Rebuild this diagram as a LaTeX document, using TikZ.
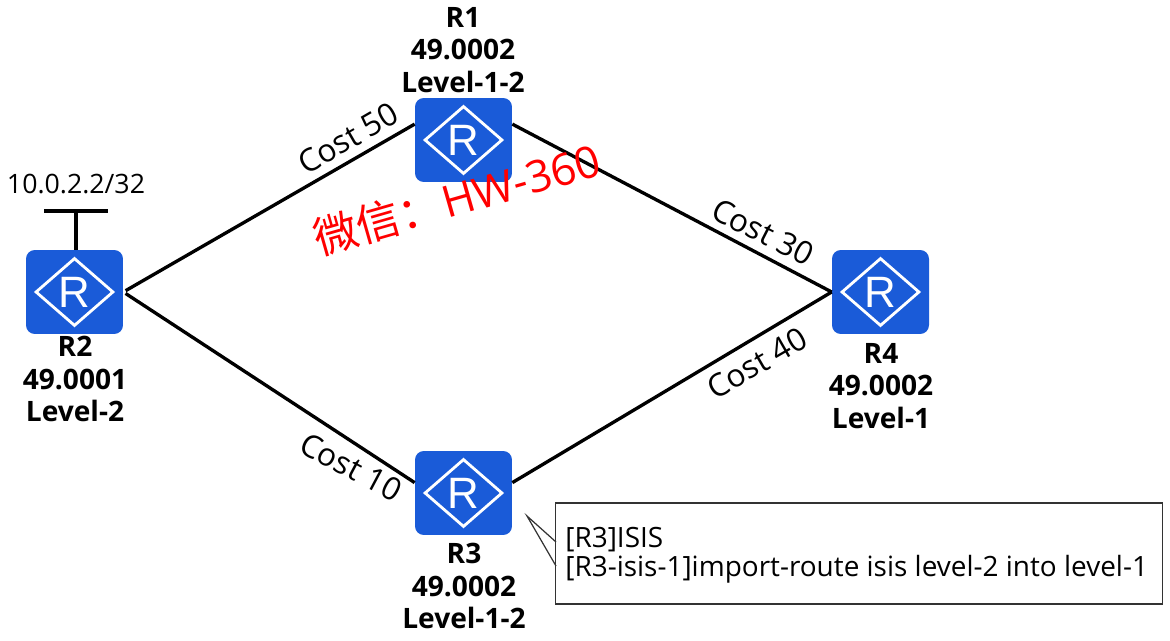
\documentclass[tikz,border=0pt]{standalone}
\usepackage{fontspec}
\setmainfont{Open Sans}
\newfontfamily\cjkfont{Noto Sans CJK SC}
\newfontfamily\markfont{Liberation Sans}
\usetikzlibrary{shapes.geometric}
\definecolor{routerblue}{RGB}{26,91,216}
\tikzset{
  router/.style={fill=routerblue,rounded corners=5pt,minimum width=1.94cm,minimum height=1.68cm,inner sep=0pt},
  routermark/.style={diamond,draw=white,line width=1.6pt,text=white,minimum width=1.56cm,minimum height=1.36cm,inner sep=0pt,font=\markfont\fontsize{25}{25}\selectfont},
  routerinfo/.style={align=center,font=\fontsize{16}{18.5}\selectfont\bfseries,inner sep=0pt},
  link/.style={line width=1.9pt},
  cost/.style={font=\fontsize{18}{20}\selectfont,inner sep=0pt}
}
\begin{document}
\begin{tikzpicture}[x=0.02cm,y=-0.02cm]
\useasboundingbox (0,0) rectangle (1170,641);

\node [router] (r1) at (463.5,140) {};
\node [router] (r2) at (74.5,292) {};
\node [router] (r3) at (463.5,493) {};
\node [router] (r4) at (880.5,292) {};
\node [routermark] (m1) at (r1) {R};
\node [routermark] (m2) at (r2) {R};
\node [routermark] (m3) at (r3) {R};
\node [routermark] (m4) at (r4) {R};

\node [routerinfo] (t1) at (463,50) {R1\\49.0002\\Level-1-2};
\node [routerinfo] (t2) at (75,379) {R2\\49.0001\\Level-2};
\node [routerinfo] (t3) at (464,586) {R3\\49.0002\\Level-1-2};
\node [routerinfo] (t4) at (881,386) {R4\\49.0002\\Level-1};

\draw [link,shorten <=1.5pt] (r2.east) -- (r1.162);
\draw [link] (r1.18) -- (r4.west);
\draw [link,shorten <=1.5pt] (r2.east) -- (r3.168);
\draw [link] (r3.12) -- (r4.west);

% loopback of R2
\coordinate (bar) at (76,211);
\coordinate (barl) at (44,211);
\coordinate (barr) at (108,211);
\draw [line width=1.8pt] (barl) -- (barr);
\draw [line width=1.8pt] (bar) -- (bar |- r2.north);
\node [font=\fontsize{15.2}{18}\selectfont,inner sep=0pt] (lo) at (76,184) {10.0.2.2/32};

\node [cost,rotate=30] (c50) at (348,138) {Cost 50};
\node [cost,rotate=-27] (c30) at (763,232) {Cost 30};
\node [cost,rotate=-28] (c10) at (351,467) {Cost 10};
\node [cost,rotate=30] (c40) at (757,363) {Cost 40};

% note of R3
\node [draw=black!80,fill=white,line width=0.7pt,minimum width=12.14cm,minimum height=2.02cm,inner sep=0pt] (note) at (859,553.5) {};
\coordinate (tip) at (527,516);
\coordinate (notea) at (556,542);
\coordinate (noteb) at (556,566);
\draw [draw=black!80,line width=0.7pt] (notea) -- (tip) -- (noteb);
\node [anchor=west,align=left,inner sep=0pt,font=\fontsize{15.9}{16.5}\selectfont] (cmd) at (565,555) {{[R3]ISIS}\\{[R3-isis-1]import-route isis level-2 into level-1}};

\node [rotate=16,text=red,inner sep=0pt,font=\fontsize{25}{25}\selectfont] (wm) at (457,199) {{\cjkfont 微信：}\hspace{1pt}HW-360};
\end{tikzpicture}
\end{document}
